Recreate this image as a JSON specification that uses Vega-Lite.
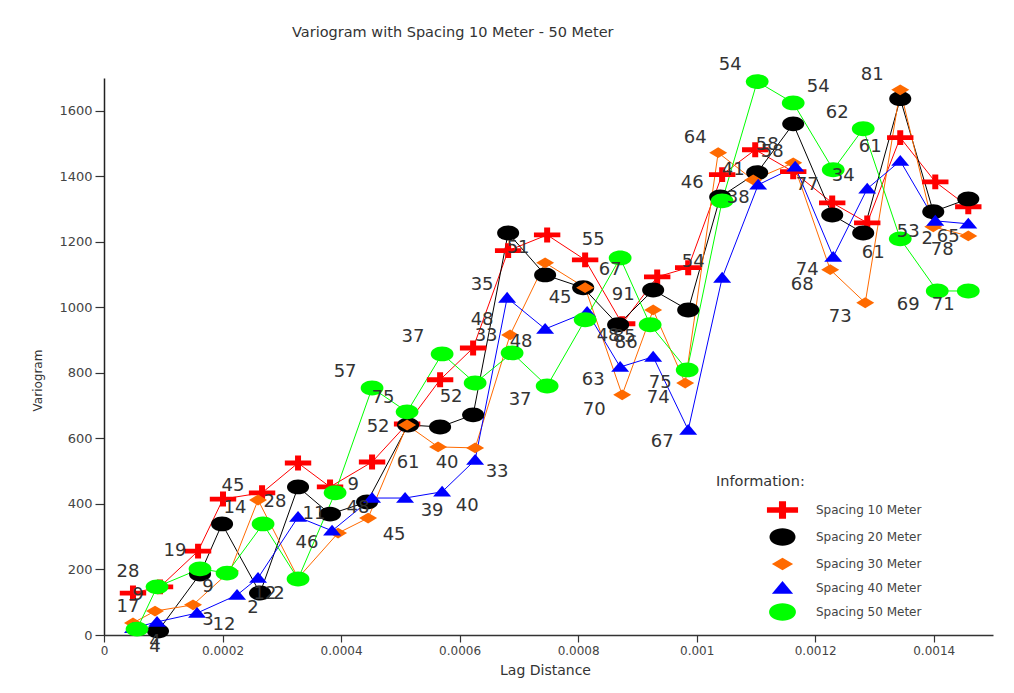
{
  "$schema": "https://vega.github.io/schema/vega-lite/v6.json",
  "width": 889,
  "height": 557,
  "autosize": {"type": "none"},
  "padding": {"left": 104, "top": 78, "right": 21, "bottom": 58},
  "background": "white",
  "title": {"text": "Variogram with Spacing 10 Meter - 50 Meter", "anchor": "start", "frame": "group", "dx": 188, "offset": 15, "font": "DejaVu Sans", "fontSize": 14.5, "fontWeight": "normal", "color": "#333"},
  "config": {"view": {"stroke": null}},
  "datasets": {
    "pts": [
      {"s": "Spacing 10 Meter", "lag": 0.0000489, "v": 128},
      {"s": "Spacing 10 Meter", "lag": 0.0000945, "v": 147},
      {"s": "Spacing 10 Meter", "lag": 0.0001587, "v": 256},
      {"s": "Spacing 10 Meter", "lag": 0.0002008, "v": 415},
      {"s": "Spacing 10 Meter", "lag": 0.0002667, "v": 434},
      {"s": "Spacing 10 Meter", "lag": 0.0003274, "v": 525},
      {"s": "Spacing 10 Meter", "lag": 0.0003814, "v": 452},
      {"s": "Spacing 10 Meter", "lag": 0.0004523, "v": 528},
      {"s": "Spacing 10 Meter", "lag": 0.0005114, "v": 644},
      {"s": "Spacing 10 Meter", "lag": 0.0005671, "v": 779},
      {"s": "Spacing 10 Meter", "lag": 0.0006228, "v": 876},
      {"s": "Spacing 10 Meter", "lag": 0.0006819, "v": 1173},
      {"s": "Spacing 10 Meter", "lag": 0.0007477, "v": 1221},
      {"s": "Spacing 10 Meter", "lag": 0.0008118, "v": 1145},
      {"s": "Spacing 10 Meter", "lag": 0.0008743, "v": 950},
      {"s": "Spacing 10 Meter", "lag": 0.0009334, "v": 1093},
      {"s": "Spacing 10 Meter", "lag": 0.0009857, "v": 1121},
      {"s": "Spacing 10 Meter", "lag": 0.001043, "v": 1405},
      {"s": "Spacing 10 Meter", "lag": 0.0010988, "v": 1481},
      {"s": "Spacing 10 Meter", "lag": 0.0011629, "v": 1414},
      {"s": "Spacing 10 Meter", "lag": 0.0012287, "v": 1319},
      {"s": "Spacing 10 Meter", "lag": 0.0012878, "v": 1258},
      {"s": "Spacing 10 Meter", "lag": 0.0013435, "v": 1518},
      {"s": "Spacing 10 Meter", "lag": 0.0014026, "v": 1383},
      {"s": "Spacing 10 Meter", "lag": 0.0014583, "v": 1307},
      {"s": "Spacing 20 Meter", "lag": 0.0000911, "v": 12},
      {"s": "Spacing 20 Meter", "lag": 0.000162, "v": 186},
      {"s": "Spacing 20 Meter", "lag": 0.0001992, "v": 339},
      {"s": "Spacing 20 Meter", "lag": 0.0002633, "v": 128},
      {"s": "Spacing 20 Meter", "lag": 0.0003274, "v": 452},
      {"s": "Spacing 20 Meter", "lag": 0.0003814, "v": 369},
      {"s": "Spacing 20 Meter", "lag": 0.0004439, "v": 406},
      {"s": "Spacing 20 Meter", "lag": 0.0005131, "v": 641},
      {"s": "Spacing 20 Meter", "lag": 0.0005671, "v": 635},
      {"s": "Spacing 20 Meter", "lag": 0.0006228, "v": 672},
      {"s": "Spacing 20 Meter", "lag": 0.0006819, "v": 1227},
      {"s": "Spacing 20 Meter", "lag": 0.0007443, "v": 1099},
      {"s": "Spacing 20 Meter", "lag": 0.0008085, "v": 1060},
      {"s": "Spacing 20 Meter", "lag": 0.0008675, "v": 947},
      {"s": "Spacing 20 Meter", "lag": 0.0009266, "v": 1053},
      {"s": "Spacing 20 Meter", "lag": 0.0009857, "v": 992},
      {"s": "Spacing 20 Meter", "lag": 0.0010397, "v": 1337},
      {"s": "Spacing 20 Meter", "lag": 0.0011021, "v": 1411},
      {"s": "Spacing 20 Meter", "lag": 0.0011629, "v": 1560},
      {"s": "Spacing 20 Meter", "lag": 0.0012287, "v": 1282},
      {"s": "Spacing 20 Meter", "lag": 0.001281, "v": 1227},
      {"s": "Spacing 20 Meter", "lag": 0.0013435, "v": 1637},
      {"s": "Spacing 20 Meter", "lag": 0.0013992, "v": 1292},
      {"s": "Spacing 20 Meter", "lag": 0.0014583, "v": 1331},
      {"s": "Spacing 30 Meter", "lag": 0.0000489, "v": 37},
      {"s": "Spacing 30 Meter", "lag": 0.0000861, "v": 73},
      {"s": "Spacing 30 Meter", "lag": 0.0001502, "v": 92},
      {"s": "Spacing 30 Meter", "lag": 0.0002127, "v": 195},
      {"s": "Spacing 30 Meter", "lag": 0.0002599, "v": 412},
      {"s": "Spacing 30 Meter", "lag": 0.0003274, "v": 174},
      {"s": "Spacing 30 Meter", "lag": 0.0003949, "v": 311},
      {"s": "Spacing 30 Meter", "lag": 0.0004456, "v": 357},
      {"s": "Spacing 30 Meter", "lag": 0.0005114, "v": 641},
      {"s": "Spacing 30 Meter", "lag": 0.0005637, "v": 574},
      {"s": "Spacing 30 Meter", "lag": 0.0006262, "v": 571},
      {"s": "Spacing 30 Meter", "lag": 0.0006852, "v": 916},
      {"s": "Spacing 30 Meter", "lag": 0.0007443, "v": 1136},
      {"s": "Spacing 30 Meter", "lag": 0.0008118, "v": 1060},
      {"s": "Spacing 30 Meter", "lag": 0.0008743, "v": 733},
      {"s": "Spacing 30 Meter", "lag": 0.0009266, "v": 992},
      {"s": "Spacing 30 Meter", "lag": 0.0009806, "v": 769},
      {"s": "Spacing 30 Meter", "lag": 0.0010363, "v": 1472},
      {"s": "Spacing 30 Meter", "lag": 0.0010954, "v": 1389},
      {"s": "Spacing 30 Meter", "lag": 0.0011629, "v": 1441},
      {"s": "Spacing 30 Meter", "lag": 0.0012253, "v": 1115},
      {"s": "Spacing 30 Meter", "lag": 0.0012844, "v": 1014},
      {"s": "Spacing 30 Meter", "lag": 0.0013435, "v": 1664},
      {"s": "Spacing 30 Meter", "lag": 0.0013992, "v": 1246},
      {"s": "Spacing 30 Meter", "lag": 0.0014583, "v": 1218},
      {"s": "Spacing 40 Meter", "lag": 0.0000489, "v": 21},
      {"s": "Spacing 40 Meter", "lag": 0.0000895, "v": 40},
      {"s": "Spacing 40 Meter", "lag": 0.000157, "v": 67},
      {"s": "Spacing 40 Meter", "lag": 0.0002245, "v": 122},
      {"s": "Spacing 40 Meter", "lag": 0.0002599, "v": 174},
      {"s": "Spacing 40 Meter", "lag": 0.0003274, "v": 360},
      {"s": "Spacing 40 Meter", "lag": 0.0003848, "v": 318},
      {"s": "Spacing 40 Meter", "lag": 0.0004523, "v": 418},
      {"s": "Spacing 40 Meter", "lag": 0.000508, "v": 418},
      {"s": "Spacing 40 Meter", "lag": 0.0005705, "v": 437},
      {"s": "Spacing 40 Meter", "lag": 0.0006262, "v": 534},
      {"s": "Spacing 40 Meter", "lag": 0.0006802, "v": 1029},
      {"s": "Spacing 40 Meter", "lag": 0.0007443, "v": 934},
      {"s": "Spacing 40 Meter", "lag": 0.0008152, "v": 986},
      {"s": "Spacing 40 Meter", "lag": 0.0008709, "v": 818},
      {"s": "Spacing 40 Meter", "lag": 0.0009266, "v": 849},
      {"s": "Spacing 40 Meter", "lag": 0.0009857, "v": 626},
      {"s": "Spacing 40 Meter", "lag": 0.001043, "v": 1090},
      {"s": "Spacing 40 Meter", "lag": 0.0011038, "v": 1374},
      {"s": "Spacing 40 Meter", "lag": 0.0011663, "v": 1429},
      {"s": "Spacing 40 Meter", "lag": 0.0012304, "v": 1154},
      {"s": "Spacing 40 Meter", "lag": 0.0012878, "v": 1362},
      {"s": "Spacing 40 Meter", "lag": 0.0013435, "v": 1447},
      {"s": "Spacing 40 Meter", "lag": 0.0014026, "v": 1264},
      {"s": "Spacing 40 Meter", "lag": 0.0014583, "v": 1255},
      {"s": "Spacing 50 Meter", "lag": 0.0000557, "v": 18},
      {"s": "Spacing 50 Meter", "lag": 0.0000895, "v": 147},
      {"s": "Spacing 50 Meter", "lag": 0.000162, "v": 202},
      {"s": "Spacing 50 Meter", "lag": 0.0002076, "v": 189},
      {"s": "Spacing 50 Meter", "lag": 0.0002684, "v": 339},
      {"s": "Spacing 50 Meter", "lag": 0.0003274, "v": 171},
      {"s": "Spacing 50 Meter", "lag": 0.0003899, "v": 434},
      {"s": "Spacing 50 Meter", "lag": 0.0004523, "v": 754},
      {"s": "Spacing 50 Meter", "lag": 0.0005114, "v": 681},
      {"s": "Spacing 50 Meter", "lag": 0.0005705, "v": 858},
      {"s": "Spacing 50 Meter", "lag": 0.0006262, "v": 769},
      {"s": "Spacing 50 Meter", "lag": 0.0006886, "v": 861},
      {"s": "Spacing 50 Meter", "lag": 0.0007477, "v": 760},
      {"s": "Spacing 50 Meter", "lag": 0.0008118, "v": 962},
      {"s": "Spacing 50 Meter", "lag": 0.0008709, "v": 1151},
      {"s": "Spacing 50 Meter", "lag": 0.0009215, "v": 947},
      {"s": "Spacing 50 Meter", "lag": 0.000984, "v": 809},
      {"s": "Spacing 50 Meter", "lag": 0.001043, "v": 1325},
      {"s": "Spacing 50 Meter", "lag": 0.0011021, "v": 1689},
      {"s": "Spacing 50 Meter", "lag": 0.0011629, "v": 1624},
      {"s": "Spacing 50 Meter", "lag": 0.0012304, "v": 1420},
      {"s": "Spacing 50 Meter", "lag": 0.001281, "v": 1545},
      {"s": "Spacing 50 Meter", "lag": 0.0013435, "v": 1209},
      {"s": "Spacing 50 Meter", "lag": 0.0014059, "v": 1050},
      {"s": "Spacing 50 Meter", "lag": 0.0014583, "v": 1050}
    ],
    "labels": [
      {"t": "28", "lag": 0.0000405, "v": 192},
      {"t": "9", "lag": 0.0000574, "v": 122},
      {"t": "17", "lag": 0.0000405, "v": 85},
      {"t": "4", "lag": 0.0000861, "v": -21},
      {"t": "4", "lag": 0.0000861, "v": -37},
      {"t": "19", "lag": 0.0001198, "v": 256},
      {"t": "9", "lag": 0.0001755, "v": 147},
      {"t": "3", "lag": 0.0001755, "v": 46},
      {"t": "12", "lag": 0.0002025, "v": 31},
      {"t": "45", "lag": 0.0002177, "v": 455},
      {"t": "14", "lag": 0.0002211, "v": 388},
      {"t": "28", "lag": 0.0002886, "v": 406},
      {"t": "2", "lag": 0.0002515, "v": 82},
      {"t": "12", "lag": 0.0002717, "v": 125},
      {"t": "2", "lag": 0.0002954, "v": 125},
      {"t": "46", "lag": 0.0003426, "v": 281},
      {"t": "11", "lag": 0.0003544, "v": 369},
      {"t": "48", "lag": 0.0004287, "v": 388},
      {"t": "9", "lag": 0.0004203, "v": 458},
      {"t": "45", "lag": 0.0004895, "v": 305},
      {"t": "57", "lag": 0.0004068, "v": 803},
      {"t": "75", "lag": 0.0004709, "v": 724},
      {"t": "52", "lag": 0.0004625, "v": 635},
      {"t": "61", "lag": 0.0005131, "v": 525},
      {"t": "40", "lag": 0.0005789, "v": 525},
      {"t": "33", "lag": 0.0006633, "v": 498},
      {"t": "39", "lag": 0.0005536, "v": 379},
      {"t": "40", "lag": 0.0006127, "v": 394},
      {"t": "37", "lag": 0.0005215, "v": 910},
      {"t": "52", "lag": 0.0005857, "v": 727},
      {"t": "48", "lag": 0.000638, "v": 962},
      {"t": "33", "lag": 0.0006447, "v": 913},
      {"t": "48", "lag": 0.0007038, "v": 895},
      {"t": "35", "lag": 0.000638, "v": 1069},
      {"t": "51", "lag": 0.0006987, "v": 1182},
      {"t": "55", "lag": 0.0008253, "v": 1206},
      {"t": "45", "lag": 0.0007696, "v": 1029},
      {"t": "67", "lag": 0.000854, "v": 1115},
      {"t": "91", "lag": 0.000876, "v": 1038},
      {"t": "48", "lag": 0.0008506, "v": 913},
      {"t": "85", "lag": 0.0008777, "v": 910},
      {"t": "86", "lag": 0.000881, "v": 892},
      {"t": "37", "lag": 0.0007021, "v": 718},
      {"t": "63", "lag": 0.0008253, "v": 779},
      {"t": "70", "lag": 0.000827, "v": 687},
      {"t": "75", "lag": 0.0009384, "v": 769},
      {"t": "74", "lag": 0.000935, "v": 724},
      {"t": "67", "lag": 0.0009418, "v": 589},
      {"t": "54", "lag": 0.0009941, "v": 1139},
      {"t": "46", "lag": 0.0009924, "v": 1380},
      {"t": "64", "lag": 0.0009975, "v": 1518},
      {"t": "41", "lag": 0.0010616, "v": 1420},
      {"t": "38", "lag": 0.0010701, "v": 1334},
      {"t": "58", "lag": 0.001119, "v": 1496},
      {"t": "58", "lag": 0.0011275, "v": 1475},
      {"t": "54", "lag": 0.0010566, "v": 1740},
      {"t": "54", "lag": 0.0012051, "v": 1673},
      {"t": "62", "lag": 0.0012372, "v": 1594},
      {"t": "81", "lag": 0.0012962, "v": 1710},
      {"t": "77", "lag": 0.0011865, "v": 1374},
      {"t": "34", "lag": 0.0012473, "v": 1402},
      {"t": "61", "lag": 0.0012929, "v": 1490},
      {"t": "61", "lag": 0.0012979, "v": 1166},
      {"t": "74", "lag": 0.0011865, "v": 1114},
      {"t": "68", "lag": 0.0011781, "v": 1069},
      {"t": "73", "lag": 0.0012422, "v": 971},
      {"t": "53", "lag": 0.001357, "v": 1231},
      {"t": "2", "lag": 0.001389, "v": 1209},
      {"t": "65", "lag": 0.0014245, "v": 1215},
      {"t": "78", "lag": 0.0014144, "v": 1176},
      {"t": "69", "lag": 0.001357, "v": 1008},
      {"t": "71", "lag": 0.001416, "v": 1008}
    ]
  },
  "encoding": {
    "x": {
      "field": "lag", "type": "quantitative",
      "scale": {"domain": [0, 0.0015], "nice": false, "zero": false},
      "axis": {
        "title": "Lag Distance", "values": [0, 0.0002, 0.0004, 0.0006, 0.0008, 0.001, 0.0012, 0.0014],
        "format": "~g", "grid": false, "labelFlush": false, "labelOverlap": false,
        "domainColor": "#333", "domainWidth": 1.5, "tickColor": "#333", "tickSize": 7, "tickWidth": 1.2,
        "labelPadding": 3, "labelFont": "DejaVu Sans", "labelFontSize": 12, "labelColor": "#444",
        "titleFont": "DejaVu Sans", "titleFontSize": 14, "titleFontWeight": "normal", "titleColor": "#333",
        "titleX": 441, "titleY": 35, "titleBaseline": "middle", "titleAlign": "center"
      }
    },
    "y": {
      "field": "v", "type": "quantitative",
      "scale": {"domain": [0, 1700], "nice": false},
      "axis": {
        "title": "Variogram", "values": [0, 200, 400, 600, 800, 1000, 1200, 1400, 1600],
        "format": "d", "grid": false, "labelOverlap": false, "labelFlush": false,
        "domainColor": "#222", "domainWidth": 1.5, "tickColor": "#333", "tickSize": 9, "tickWidth": 1.2,
        "labelPadding": 3, "labelFont": "DejaVu Sans", "labelFontSize": 13, "labelColor": "#444",
        "titleFont": "DejaVu Sans", "titleFontSize": 12, "titleFontWeight": "normal", "titleColor": "#333",
        "titleX": -67, "titleY": 302, "titleBaseline": "middle", "titleAlign": "center", "titleAngle": 270
      }
    },
    "color": {
      "field": "s", "type": "nominal",
      "scale": {"domain": ["Spacing 10 Meter", "Spacing 20 Meter", "Spacing 30 Meter", "Spacing 40 Meter", "Spacing 50 Meter"],
                "range": ["#ff0000", "#000000", "#ff6a00", "#0000ff", "#00ff00"]},
      "legend": {
        "title": "Information:", "orient": "none", "legendX": 612, "legendY": 397,
        "titleFont": "DejaVu Sans", "titleFontSize": 14.5, "titleFontWeight": "normal", "titleColor": "#333", "titlePadding": 6,
        "labelFont": "DejaVu Sans", "labelFontSize": 12, "labelColor": "#444", "labelOffset": 19,
        "symbolSize": 800, "symbolOffset": 52, "symbolStrokeWidth": 0, "rowPadding": 3
      }
    }
  },
  "layer": [
    {
      "data": {"name": "pts"},
      "mark": {"type": "line", "strokeWidth": 1, "clip": false}
    },
    {
      "data": {"name": "pts"},
      "mark": {"type": "point", "filled": true, "opacity": 1, "size": 576, "strokeWidth": 0},
      "encoding": {
        "shape": {
          "field": "s", "type": "nominal",
          "scale": {"domain": ["Spacing 10 Meter", "Spacing 20 Meter", "Spacing 30 Meter", "Spacing 40 Meter", "Spacing 50 Meter"],
                    "range": [
                      "M-1.1,-0.2H-0.25V-0.62H0.25V-0.2H1.1V0.2H0.25V0.62H-0.25V0.2H-1.1Z",
                      "M-0.92,0A0.92,0.62 0 1,0 0.92,0A0.92,0.62 0 1,0 -0.92,0Z",
                      "M-0.75,0L0,-0.45L0.75,0L0,0.45Z",
                      "M-0.75,0.4L0,-0.5L0.75,0.4Z",
                      "M-0.95,0A0.95,0.62 0 1,0 0.95,0A0.95,0.62 0 1,0 -0.95,0Z"
                    ]},
          "legend": {
            "title": "Information:", "orient": "none", "legendX": 612, "legendY": 397
          }
        }
      }
    },
    {
      "data": {"name": "labels"},
      "mark": {"type": "text", "font": "DejaVu Sans", "fontSize": 18, "color": "#333", "align": "center", "baseline": "middle"},
      "encoding": {
        "text": {"field": "t", "type": "nominal"},
        "color": {"value": "#333"}
      }
    }
  ]
}
